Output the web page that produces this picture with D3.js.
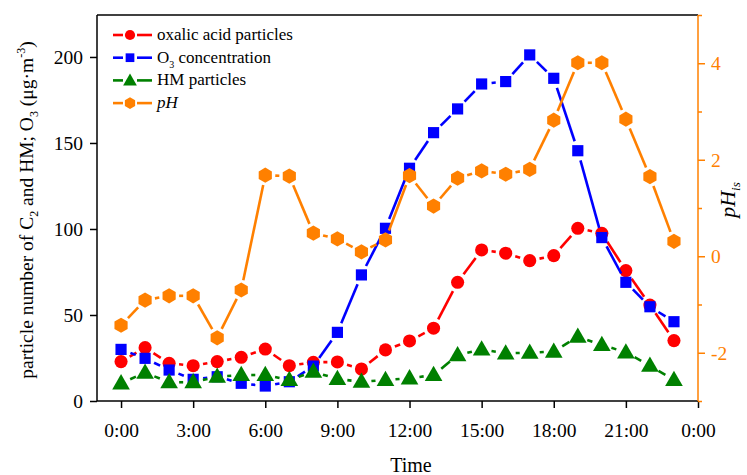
<!DOCTYPE html>
<html>
<head>
<meta charset="utf-8">
<script src="https://cdn.jsdelivr.net/npm/d3@7"></script>
<style>
  body { margin: 0; background: #fff; }
  svg { display: block; }
  svg text { font-family: "Liberation Serif", "Times New Roman", serif !important; }
</style>
</head>
<body>
<svg id="chart" width="747" height="475"></svg>
<script>
// ---------- data ----------
const hours = [0,1,2,3,4,5,6,7,8,9,10,11,12,13,14,15,16,17,18,19,20,21,22,23];
const oxalic = [22.9,31,21.9,20.5,22.9,25.4,30.2,20.5,22.5,22.7,18.6,29.7,34.9,42.3,69,87.8,85.9,81.6,84.5,100.4,97.5,75.8,55.8,35.1];
const ozone  = [30.0,24.8,18.0,12.6,14.1,10.3,8.7,11.2,20.3,39.9,73.3,100.4,135.3,156,169.8,184.3,185.7,201.2,187.6,145.5,95,69,54.8,46.1];
const hm     = [10.3,16.5,10.9,10.9,14.1,15.1,15.1,12.2,17,12.8,11.2,12.2,13.2,15.1,26.7,30,27.7,28.1,28.7,37.4,32.6,28.3,20.5,12.2];
const pH     = [-1.43,-0.91,-0.82,-0.82,-1.69,-0.70,1.68,1.66,0.48,0.36,0.09,0.34,1.67,1.04,1.62,1.77,1.70,1.80,2.82,4.01,4.01,2.84,1.65,0.31];
const xTicks = [0,3,6,9,12,15,18,21,24];
const yLeftTicks = [0,50,100,150,200];
const yRightTicks = [-2,0,2,4];
const yRightMinor = [-3,-1,1,3,5];

// ---------- layout ----------
const svg = d3.select("#chart");
const FONT = '"Liberation Serif", "Times New Roman", serif';
const L = 97, R = 698, T = 15, B = 401;
const x = d3.scaleLinear().domain([-1, 24]).range([L, R]);
const yL = d3.scaleLinear().domain([0, 224.4]).range([B, T]);
const yR = d3.scaleLinear().domain([-3, 5]).range([B, T]);

const ORANGE = "#ff8000";

// frame top
svg.append("line").attr("x1", L).attr("x2", R).attr("y1", T).attr("y2", T)
  .attr("stroke", "#000").attr("stroke-width", 1.5);

// bottom axis
const xAxis = d3.axisBottom(x).tickValues(xTicks).tickSize(7).tickPadding(15)
  .tickFormat(d => (d % 24) + ":00");
const gx = svg.append("g").attr("transform", `translate(0,${B})`).call(xAxis);
gx.attr("font-family", null).attr("font-size", null);
gx.select(".domain").attr("stroke-width", 1.5).attr("d", `M${L},0H${R}`);
gx.selectAll(".tick line").attr("stroke-width", 1.5);
gx.selectAll("text").style("font-size", "19.5px").style("font-family", FONT).attr("fill", "#000");

// left axis
const yAxisL = d3.axisLeft(yL).tickValues(yLeftTicks).tickSize(7).tickPadding(7);
const gyl = svg.append("g").attr("transform", `translate(${L},0)`).call(yAxisL);
gyl.attr("font-family", null).attr("font-size", null);
gyl.select(".domain").attr("stroke-width", 1.5).attr("d", `M0,${B}V${T}`);
gyl.selectAll(".tick line").attr("stroke-width", 1.5);
gyl.selectAll("text").style("font-size", "19.5px").style("font-family", FONT).attr("fill", "#000");

// right axis (pH)
const yAxisR = d3.axisRight(yR).tickValues(yRightTicks).tickSize(7).tickPadding(6)
  .tickFormat(d => d);
const gyr = svg.append("g").attr("transform", `translate(${R},0)`).call(yAxisR);
gyr.attr("font-family", null).attr("font-size", null);
gyr.select(".domain").attr("stroke", ORANGE).attr("stroke-width", 1.5).attr("d", `M0,${B}V${T}`);
gyr.selectAll(".tick line").attr("stroke", ORANGE).attr("stroke-width", 1.5);
gyr.selectAll("text").style("font-size", "19.5px").style("font-family", FONT).attr("fill", ORANGE);
const gyrm = svg.append("g").attr("transform", `translate(${R},0)`)
  .call(d3.axisRight(yR).tickValues(yRightMinor).tickSize(4).tickFormat(""));
gyrm.select(".domain").remove();
gyrm.selectAll(".tick line").attr("stroke", ORANGE).attr("stroke-width", 1.5);

// axis titles
svg.append("text").attr("x", 411).attr("y", 472).attr("text-anchor", "middle")
  .style("font-size", "20px").style("font-family", FONT).text("Time");

const ylab = svg.append("text").attr("transform", `translate(33,${(T + B) / 2 + 2}) rotate(-90)`)
  .attr("text-anchor", "middle").style("font-size", "19.5px").style("font-family", FONT);
ylab.append("tspan").text("particle number of C");
ylab.append("tspan").style("font-size", "12px").attr("dy", 5).text("2");
ylab.append("tspan").attr("dy", -5).text(" and HM; O");
ylab.append("tspan").style("font-size", "12px").attr("dy", 5).text("3");
ylab.append("tspan").attr("dy", -5).text(" (μg·m");
ylab.append("tspan").style("font-size", "12px").attr("dy", -8).text("-3");
ylab.append("tspan").attr("dy", 8).text(")");

const rlab = svg.append("text").attr("transform", `translate(735,200) rotate(-90)`)
  .attr("text-anchor", "middle").style("font-size", "22px").style("font-family", FONT)
  .style("font-style", "italic");
rlab.append("tspan").text("pH");
rlab.append("tspan").style("font-size", "13px").attr("dy", 5).text("is");

// ---------- marker shapes ----------
function hexPath(r) {
  const pts = d3.range(6).map(i => {
    const a = Math.PI / 2 + i * Math.PI / 3;
    return [r * Math.cos(a), r * Math.sin(a)];
  });
  return "M" + pts.map(p => p.join(",")).join("L") + "Z";
}
function shapePath(shape, k) {
  if (shape === "circle") return d3.symbol().type(d3.symbolCircle).size(135 * k * k)();
  if (shape === "square") return d3.symbol().type(d3.symbolSquare).size(125 * k * k)();
  if (shape === "triangle") return d3.symbol().type(d3.symbolTriangle).size(135 * k * k)();
  return hexPath(7.6 * k);
}

const seriesList = [
  { name: "oxalic", values: oxalic, y: yL, color: "#ff0000", shape: "circle" },
  { name: "ozone", values: ozone, y: yL, color: "#0000ff", shape: "square" },
  { name: "hm", values: hm, y: yL, color: "#008000", shape: "triangle" },
  { name: "pH", values: pH, y: yR, color: ORANGE, shape: "hex" }
];

const GAP = 10;
seriesList.forEach(s => {
  const pts = hours.map((h, i) => [x(h), s.y(s.values[i])]);
  const g = svg.append("g");
  for (let i = 0; i < pts.length - 1; i++) {
    const [x1, y1] = pts[i], [x2, y2] = pts[i + 1];
    const dx = x2 - x1, dy = y2 - y1, len = Math.hypot(dx, dy);
    if (len <= 2 * GAP) continue;
    const ux = dx / len, uy = dy / len;
    g.append("line")
      .attr("x1", x1 + ux * GAP).attr("y1", y1 + uy * GAP)
      .attr("x2", x2 - ux * GAP).attr("y2", y2 - uy * GAP)
      .attr("stroke", s.color).attr("stroke-width", 2.6);
  }
  g.selectAll("path.m").data(pts).enter().append("path").attr("class", "m")
    .attr("d", shapePath(s.shape, 1))
    .attr("transform", d => `translate(${d[0]},${d[1] + (s.shape === "triangle" ? 1 : 0)})`)
    .attr("fill", s.color);
});

// ---------- legend ----------
const legendItems = [
  { label: "oxalic acid particles", color: "#ff0000", shape: "circle" },
  { label: "O3 concentration", color: "#0000ff", shape: "square" },
  { label: "HM particles", color: "#008000", shape: "triangle" },
  { label: "pH", color: ORANGE, shape: "hex" }
];
const lg = svg.append("g");
legendItems.forEach((d, i) => {
  const yy = 35 + i * 22.7;
  lg.append("line").attr("x1", 113).attr("x2", 123).attr("y1", yy).attr("y2", yy)
    .attr("stroke", d.color).attr("stroke-width", 2.6);
  lg.append("line").attr("x1", 137).attr("x2", 152).attr("y1", yy).attr("y2", yy)
    .attr("stroke", d.color).attr("stroke-width", 2.6);
  lg.append("path").attr("d", shapePath(d.shape, 0.78))
    .attr("transform", `translate(130,${yy + (d.shape === "triangle" ? 1 : 0)})`).attr("fill", d.color);
  const t = lg.append("text").attr("x", 157).attr("y", yy + 5)
    .style("font-size", "17px").style("font-family", FONT);
  if (i === 1) {
    t.append("tspan").text("O");
    t.append("tspan").style("font-size", "10px").attr("dy", 5).text("3");
    t.append("tspan").attr("dy", -5).text(" concentration");
  } else if (i === 3) {
    t.style("font-style", "italic").text(d.label);
  } else {
    t.text(d.label);
  }
});
</script>
</body>
</html>
